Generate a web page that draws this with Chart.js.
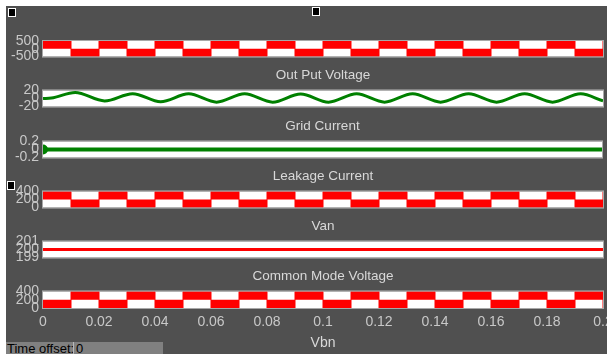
<!DOCTYPE html>
<html>
<head>
<meta charset="utf-8">
<script src="https://cdn.jsdelivr.net/npm/chart.js@4.4.0/dist/chart.umd.min.js"></script>
<style>
  html, body { margin: 0; padding: 0; background: #fff; }
  #scope { position: absolute; left: 6px; top: 6px; width: 601px; height: 348px; background: #505050; overflow: hidden; }
  #scope canvas { position: absolute; left: 0; }
  .handle { position: absolute; width: 6px; height: 7px; background: #000; border: 1px solid #fff; }
  .bar { position: absolute; top: 336px; height: 14px; background: #808080; color: #000;
         font: 13px 'Liberation Sans', Arial, sans-serif; line-height: 14px; white-space: nowrap; overflow: hidden; }
</style>
</head>
<body>
<div id="scope">
  <canvas id="c0" width="601" height="63" style="top:0px"></canvas>
  <canvas id="c1" width="601" height="63" style="top:50px"></canvas>
  <canvas id="c2" width="601" height="63" style="top:101px"></canvas>
  <canvas id="c3" width="601" height="63" style="top:151px"></canvas>
  <canvas id="c4" width="601" height="63" style="top:201px"></canvas>
  <canvas id="c5" width="601" height="97" style="top:251px"></canvas>
  <div class="handle" style="left:2px;top:2px"></div>
  <div class="handle" style="left:306px;top:1px"></div>
  <div class="handle" style="left:1px;top:175px"></div>
  <div class="bar" style="left:0;width:66px;padding-left:1px">Time offset:</div>
  <div class="bar" style="left:67px;width:87px;padding-left:2px;border-left:1px solid #b8b8b8">0</div>
</div>
<script>
// time axis
const tTicks = [0, 0.02, 0.04, 0.06, 0.08, 0.1, 0.12, 0.14, 0.16, 0.18, 0.2]

// switching instants for the pwm traces (value holds until the next instant)
const pwmTime = [0, 0.01, 0.02, 0.03, 0.04, 0.05, 0.06, 0.07, 0.08, 0.09, 0.1,
  0.11, 0.12, 0.13, 0.14, 0.15, 0.16, 0.17, 0.18, 0.19, 0.2]
const phaseVoltage = [500, -500, 500, -500, 500, -500, 500, -500, 500, -500, 500,
  -500, 500, -500, 500, -500, 500, -500, 500, -500, 500]
const leakageCurrent = [400, 0, 400, 0, 400, 0, 400, 0, 400, 0, 400,
  0, 400, 0, 400, 0, 400, 0, 400, 0, 400]
const commonModeVoltage = [0, 400, 0, 400, 0, 400, 0, 400, 0, 400, 0,
  400, 0, 400, 0, 400, 0, 400, 0, 400, 0]

// output voltage, peaks and troughs
const outTime = [0, 0.003, 0.0115, 0.022, 0.032, 0.042, 0.052, 0.062, 0.072, 0.082, 0.092,
  0.102, 0.112, 0.122, 0.132, 0.142, 0.152, 0.162, 0.172, 0.182, 0.192, 0.2]
const outVoltage = [0, 1, 15, -6, 12, -8, 11.5, -9, 11.5, -9, 11,
  -9, 11.5, -9, 11.5, -9, 11.5, -9, 11.5, -9, 11.5, -6]

const gridTime = [0, 0.2]
const gridCurrent = [0, 0]

const vanTime = [0, 0.2]
const vanVoltage = [200, 200]

const titles = ['', 'Out Put Voltage', 'Grid Current', 'Leakage Current', 'Van', 'Common Mode Voltage']
const yRanges = [[-500, 500], [-20, 20], [-0.2, 0.2], [0, 400], [199, 201], [0, 400]]
const yTicks = [[-500, 0, 500], [-20, 0, 20], [-0.2, 0, 0.2], [0, 200, 400], [199, 200, 201], [0, 200, 400]]

const pts = (xs, ys) => xs.map((x, i) => ({ x, y: ys[i] }))

Chart.defaults.font.family = "'Liberation Sans', Arial, sans-serif"
Chart.defaults.color = '#c8c8c8'

// white plot box with a thin grey frame
const frame = {
  id: 'frame',
  beforeDatasetsDraw (chart) {
    const { ctx, chartArea: a } = chart
    ctx.save()
    ctx.fillStyle = '#ffffff'
    ctx.fillRect(a.left, a.top, a.right - a.left, a.bottom - a.top)
    ctx.restore()
  },
  afterDraw (chart) {
    const { ctx, chartArea: a } = chart
    ctx.save()
    ctx.strokeStyle = '#a8a8a8'
    ctx.lineWidth = 1
    ctx.strokeRect(a.left - 0.5, a.top - 0.5, a.right - a.left + 1, a.bottom - a.top + 1)
    ctx.restore()
  }
}

const pwmSet = (data, base) => ({
  data,
  stepped: true,
  fill: { value: base },
  backgroundColor: '#ff0000',
  borderColor: '#ff0000',
  borderWidth: 1,
  pointRadius: 0
})

const datasets = [
  [pwmSet(pts(pwmTime, phaseVoltage), 0)],
  [{
    data: pts(outTime, outVoltage),
    borderColor: '#008000',
    borderWidth: 3,
    pointRadius: 0,
    cubicInterpolationMode: 'monotone',
    fill: false
  }],
  [{
    data: pts(gridTime, gridCurrent),
    borderColor: '#008000',
    borderWidth: 4,
    pointRadius: [5, 0],
    pointBackgroundColor: '#008000',
    pointBorderWidth: 0,
    clip: 0,
    fill: false
  }],
  [pwmSet(pts(pwmTime, leakageCurrent), 200)],
  [{
    data: pts(vanTime, vanVoltage),
    borderColor: '#ff0000',
    borderWidth: 3,
    pointRadius: 0,
    fill: false
  }],
  [pwmSet(pts(pwmTime, commonModeVoltage), 200)]
]

const charts = datasets.map((ds, i) => {
  const last = i === datasets.length - 1
  const xAxis = last
    ? {
        type: 'linear',
        min: 0,
        max: 0.2,
        afterBuildTicks: s => { s.ticks = tTicks.map(v => ({ value: v })) },
        afterFit: s => { s.height = 46; s.paddingLeft = 0; s.paddingRight = 0 },
        grid: { display: false, drawTicks: false },
        border: { display: false },
        ticks: { autoSkip: false, maxRotation: 0, padding: 6, font: { size: 14 }, callback: v => String(v) },
        title: { display: true, text: 'Vbn', color: '#d8d8d8', font: { size: 14 }, padding: { top: 0, bottom: 2 } }
      }
    : { type: 'linear', min: 0, max: 0.2, display: false }

  return new Chart(document.getElementById('c' + i), {
    type: 'line',
    data: { datasets: ds },
    options: {
      responsive: false,
      animation: false,
      devicePixelRatio: 1,
      layout: { padding: { top: titles[i] ? 0 : 35, right: 4, bottom: last ? 0 : 12, left: 0 } },
      plugins: {
        legend: { display: false },
        tooltip: { enabled: false },
        title: {
          display: !!titles[i],
          text: titles[i],
          fullSize: false,
          color: '#d8d8d8',
          font: { size: 13.5, weight: 'normal' },
          padding: { top: 11, bottom: 7.2 }
        }
      },
      scales: {
        x: xAxis,
        y: {
          min: yRanges[i][0],
          max: yRanges[i][1],
          afterBuildTicks: s => { s.ticks = yTicks[i].map(v => ({ value: v })) },
          afterFit: s => { s.width = 37 },
          grid: { display: false, drawTicks: false },
          border: { display: false },
          ticks: { autoSkip: false, padding: 4, font: { size: 14 } }
        }
      }
    },
    plugins: [frame]
  })
})
</script>
</body>
</html>
